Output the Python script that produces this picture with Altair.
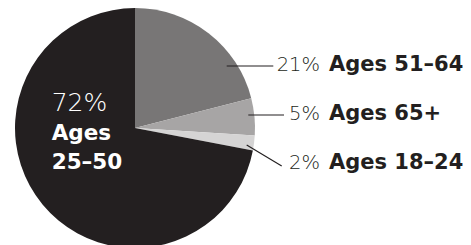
import altair as alt
import pandas as pd

# Slice data (clockwise from 12 o'clock)
groups = ["Ages 51–64", "Ages 65+", "Ages 18–24", "Ages 25–50"]
shares = [21, 5, 2, 72]
colors = ["#787676", "#a7a5a5", "#d5d4d4", "#231f20"]

# Outside labels
out_groups = ["Ages 51–64", "Ages 65+", "Ages 18–24"]
out_pcts = ["21%", "5%", "2%"]

# Inside label
in_pct = "72%"
in_lines = ["Ages", "25–50"]

pie_df = pd.DataFrame({"group": groups, "share": shares, "order": list(range(len(groups)))})
lab_df = pd.DataFrame({"group": out_groups, "pct": out_pcts})

FONT = "DejaVu Sans"
DARK = "#231f20"

pie = alt.Chart(pie_df).mark_arc(outerRadius=120, stroke=None).encode(
    theta=alt.Theta("share:Q", stack=True),
    order=alt.Order("order:Q"),
    color=alt.Color("group:N", scale=alt.Scale(domain=groups, range=colors), legend=None),
    x=alt.value(127),
    y=alt.value(120),
)

ypos = alt.Y("group:N", sort=out_groups, axis=None,
             scale=alt.Scale(type="point", range=[63, 161], padding=0))

pct_text = alt.Chart(lab_df).mark_text(
    align="right", baseline="alphabetic", font=FONT, fontSize=19.5, fontWeight=200, color=DARK
).encode(x=alt.value(312), y=ypos, text="pct:N")

name_text = alt.Chart(lab_df).mark_text(
    align="left", baseline="alphabetic", font=FONT, fontSize=21, fontWeight="bold", color=DARK
).encode(x=alt.value(321), y=ypos, text="group:N")

one = pd.DataFrame({"k": [0]})
def rule(x1, y1, x2, y2):
    return alt.Chart(one).mark_rule(color=DARK, strokeWidth=1.2).encode(
        x=alt.value(x1), y=alt.value(y1), x2=alt.value(x2), y2=alt.value(y2))

rules = rule(218.7, 58, 265.3, 58) + rule(240.3, 107, 276, 107) + rule(238.7, 137, 273.7, 158)

inner_pct = alt.Chart(pd.DataFrame({"t": [in_pct]})).mark_text(
    align="left", baseline="alphabetic", font=FONT, fontSize=25, fontWeight=200, color="white"
).encode(x=alt.value(43.7), y=alt.value(103), text="t:N")

inner_name = alt.Chart(pd.DataFrame({"t": in_lines, "i": [0, 1]})).mark_text(
    align="left", baseline="alphabetic", font=FONT, fontSize=21.5, fontWeight="bold", color="white"
).encode(
    x=alt.value(43.7),
    y=alt.Y("i:O", axis=None, scale=alt.Scale(type="point", range=[132, 160.5], padding=0)),
    text="t:N",
)

chart = alt.layer(pie, rules, pct_text, name_text, inner_pct, inner_name).resolve_scale(
    y="independent"
).properties(
    width=455, height=260, padding=0, autosize=alt.AutoSizeParams(type="none")
).configure_view(stroke=None)

chart.save("out.html", embed_options={"renderer": "svg", "actions": False})
